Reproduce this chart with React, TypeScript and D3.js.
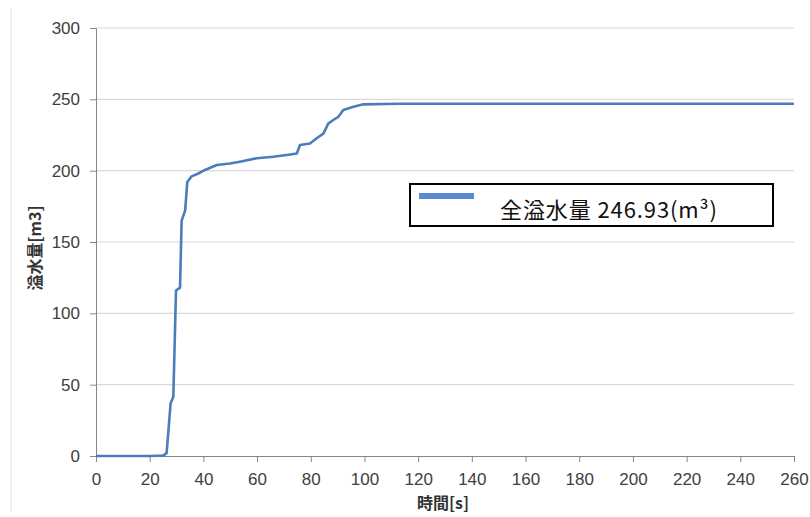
import { useEffect, useRef } from 'react';
import * as d3 from 'd3';

// time [s] and cumulative overflow volume [m3]
const times = [0, 20, 25, 26.3, 27.8, 28.8, 29.8, 31.3, 31.9, 33.2, 34.0, 35.6, 38.1, 40.6, 45, 49.9, 53.6, 59.9, 66, 71, 74.8, 76, 79.7, 82.2, 84.7, 86.5, 88.4, 90.3, 92.1, 95.9, 99.6, 113, 260];
const volumes = [0, 0, 0.3, 2, 37, 41.5, 116, 118, 165, 172, 192, 196, 198, 200.5, 204, 205, 206.3, 208.7, 209.8, 211, 212, 218, 219, 222.7, 226, 233, 235.5, 237.8, 242.5, 244.8, 246.5, 246.93, 246.93];
const xTicks = d3.range(0, 261, 20);
const yTicks = [0, 50, 100, 150, 200, 250, 300];
const legendLabel = '全溢水量 246.93(m³)';
const xTitle = '時間[s]';
const yTitle = '溢水量[m3]';

const W = 810;
const H = 517;

export default function App() {
  const svgRef = useRef<SVGSVGElement>(null);

  useEffect(() => {
    if (!svgRef.current) return;
    const svg = d3.select(svgRef.current);
    svg.selectAll('*').remove();

    const left = 96, right = 794, top = 28, bottom = 456;
    const x = d3.scaleLinear().domain([0, 260]).range([left, right]);
    const y = d3.scaleLinear().domain([0, 300]).range([bottom, top]);
    const tickFont = '"Liberation Sans", Arial, sans-serif';

    // faint outer border on the left
    svg.append('line')
      .attr('x1', 11).attr('x2', 11).attr('y1', 8).attr('y2', 512)
      .attr('stroke', '#e4e4e4').attr('stroke-width', 1);

    // gridlines
    svg.append('g')
      .selectAll('line')
      .data(yTicks.filter(d => d > 0))
      .enter()
      .append('line')
      .attr('x1', left).attr('x2', right)
      .attr('y1', d => y(d)).attr('y2', d => y(d))
      .attr('stroke', '#d9d9d9').attr('stroke-width', 1.2);

    // y axis
    const yAxis = svg.append('g')
      .attr('transform', `translate(${left},0)`)
      .call(d3.axisLeft(y).tickValues(yTicks).tickSize(6).tickPadding(10));
    yAxis.select('.domain').attr('stroke', '#868686');
    yAxis.selectAll('.tick line').attr('stroke', '#868686');
    yAxis.selectAll('.tick text')
      .attr('fill', '#404040').attr('font-size', 17).attr('font-family', tickFont);

    // x axis
    const xAxis = svg.append('g')
      .attr('transform', `translate(0,${bottom})`)
      .call(d3.axisBottom(x).tickValues(xTicks).tickSize(6).tickPadding(11));
    xAxis.select('.domain').attr('stroke', '#868686');
    xAxis.selectAll('.tick line').attr('stroke', '#868686');
    xAxis.selectAll('.tick text')
      .attr('fill', '#404040').attr('font-size', 17).attr('font-family', tickFont);

    // curve
    const pts = times.map((t, i) => [t, volumes[i]] as [number, number]);
    const line = d3.line<[number, number]>()
      .x(d => x(d[0]))
      .y(d => y(d[1]));
    svg.append('path')
      .datum(pts)
      .attr('d', line)
      .attr('fill', 'none')
      .attr('stroke', '#4a7ebb')
      .attr('stroke-width', 2.6)
      .attr('stroke-linejoin', 'round');

    // axis titles
    svg.append('text')
      .attr('x', (left + right) / 2 - 2).attr('y', 509)
      .attr('text-anchor', 'middle')
      .attr('font-size', 16).attr('font-weight', 700)
      .attr('font-family', '"Noto Sans CJK JP", sans-serif')
      .attr('fill', '#333')
      .text(xTitle);

    svg.append('text')
      .attr('transform', `translate(41,${(top + bottom) / 2 + 6}) rotate(-90)`)
      .attr('text-anchor', 'middle')
      .attr('font-size', 16).attr('font-weight', 700)
      .attr('font-family', '"Noto Sans CJK JP", sans-serif')
      .attr('fill', '#333')
      .text(yTitle);

    // legend
    const lg = svg.append('g').attr('transform', 'translate(410,184)');
    lg.append('rect')
      .attr('width', 363).attr('height', 42)
      .attr('fill', '#fff').attr('stroke', '#000').attr('stroke-width', 2);
    lg.append('line')
      .attr('x1', 9).attr('x2', 64).attr('y1', 12).attr('y2', 12)
      .attr('stroke', '#5a8ad4').attr('stroke-width', 6);
    lg.append('text')
      .attr('x', 90).attr('y', 34)
      .attr('font-size', 22)
      .attr('font-family', '"Noto Sans CJK JP", sans-serif')
      .attr('fill', '#111')
      .attr('textLength', 217)
      .attr('lengthAdjust', 'spacing')
      .text(legendLabel);
  }, []);

  return (
    <svg
      ref={svgRef}
      width={W}
      height={H}
      style={{ position: 'absolute', left: 0, top: 0, background: '#fff' }}
    />
  );
}
